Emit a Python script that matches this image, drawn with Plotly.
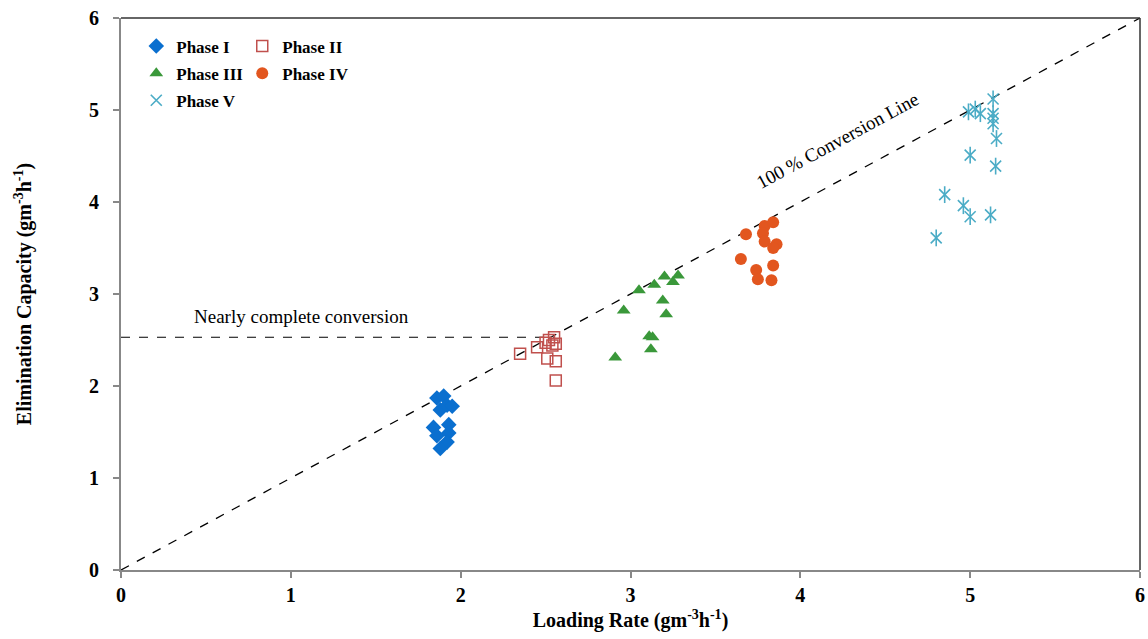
import plotly.graph_objects as go

# ---- data ----
phase1_x = [1.86, 1.90, 1.88, 1.92, 1.95, 1.84, 1.86, 1.93, 1.93, 1.92, 1.88]
phase1_y = [1.87, 1.89, 1.74, 1.79, 1.78, 1.55, 1.46, 1.58, 1.49, 1.39, 1.32]

phase2_x = [2.35, 2.45, 2.50, 2.52, 2.55, 2.56, 2.51, 2.56, 2.56, 2.54]
phase2_y = [2.35, 2.42, 2.47, 2.50, 2.53, 2.46, 2.30, 2.27, 2.06, 2.44]

phase3_x = [3.05, 3.14, 3.20, 3.25, 3.28, 2.96, 3.19, 3.21, 3.11, 3.13, 3.12, 2.91]
phase3_y = [3.04, 3.10, 3.19, 3.13, 3.20, 2.82, 2.93, 2.78, 2.54, 2.53, 2.40, 2.31]

phase4_x = [3.68, 3.79, 3.84, 3.78, 3.79, 3.86, 3.84, 3.65, 3.74, 3.84, 3.75, 3.83]
phase4_y = [3.65, 3.74, 3.78, 3.66, 3.57, 3.54, 3.50, 3.38, 3.26, 3.31, 3.16, 3.15]

phase5_x = [5.135, 4.99, 5.03, 5.06, 5.135, 5.135, 5.135, 5.155, 5.00, 5.15, 4.85, 4.96, 5.00, 5.12, 4.80]
phase5_y = [5.12, 4.98, 5.01, 4.96, 4.96, 4.91, 4.85, 4.69, 4.51, 4.39, 4.08, 3.96, 3.84, 3.86, 3.61]

conversion_x = [0, 6]
conversion_y = [0, 6]
nearly_x = [0, 2.55]
nearly_y = [2.53, 2.53]

tick_vals = [0, 1, 2, 3, 4, 5, 6]

# ---- figure ----
FONT = "Liberation Serif"
fig = go.Figure()

fig.add_trace(go.Scatter(x=conversion_x, y=conversion_y, mode="lines",
                         line=dict(color="black", width=1.3, dash="dash"),
                         showlegend=False, hoverinfo="skip"))
fig.add_trace(go.Scatter(x=nearly_x, y=nearly_y, mode="lines",
                         line=dict(color="black", width=1.1, dash="dash"),
                         showlegend=False, hoverinfo="skip"))

fig.add_trace(go.Scatter(x=phase1_x, y=phase1_y, mode="markers", name="Phase I",
                         marker=dict(symbol="diamond", size=12, color="#0a6fcf"),
                         legend="legend", legendgroup="p1"))
fig.add_trace(go.Scatter(x=phase2_x, y=phase2_y, mode="markers", name="Phase II",
                         marker=dict(symbol="square-open", size=11, color="#c0504d",
                                     line=dict(width=1.5)),
                         legend="legend2", legendgroup="p2"))
fig.add_trace(go.Scatter(x=phase3_x, y=phase3_y, mode="markers", name="Phase III",
                         marker=dict(symbol="triangle-up", size=12, color="#3a983a"),
                         legend="legend", legendgroup="p3"))
fig.add_trace(go.Scatter(x=phase4_x, y=phase4_y, mode="markers", name="Phase IV",
                         marker=dict(symbol="circle", size=12, color="#e2561f"),
                         legend="legend2", legendgroup="p4"))
fig.add_trace(go.Scatter(x=phase5_x, y=phase5_y, mode="markers", name="Phase V",
                         marker=dict(symbol="line-ns-open", size=12, color="#4bacc6",
                                     line=dict(width=1.6, color="#4bacc6")),
                         showlegend=False, hoverinfo="skip"))
fig.add_trace(go.Scatter(x=phase5_x, y=phase5_y, mode="markers", name="Phase V",
                         marker=dict(symbol="x-thin-open", size=11, color="#4bacc6",
                                     line=dict(width=1.6, color="#4bacc6")),
                         legend="legend", legendgroup="p5"))

fig.add_annotation(x=1.06, y=2.76, text="Nearly complete conversion", showarrow=False,
                   font=dict(family=FONT, size=19, color="black"))
fig.add_annotation(x=4.22, y=4.67, text="100 % Conversion Line", showarrow=False,
                   textangle=-28.4, font=dict(family=FONT, size=19, color="black"))

# top/right dark frame
fig.add_shape(type="line", xref="paper", yref="paper", x0=0, x1=1, y0=1, y1=1,
              line=dict(color="#333333", width=1.5))
fig.add_shape(type="line", xref="paper", yref="paper", x0=1, x1=1, y0=0, y1=1,
              line=dict(color="#333333", width=1.5))

axis_common = dict(
    range=[0, 6], tickvals=tick_vals, showgrid=False, zeroline=False,
    showline=True, linecolor="#888888", linewidth=2,
    ticks="outside", ticklen=6, tickcolor="#888888", tickwidth=1.5,
    tickfont=dict(family=FONT, size=20, color="black", weight="bold"),
    automargin=False, ticklabeloverflow="allow",
)

legend_common = dict(
    xanchor="left", yanchor="top", bgcolor="rgba(0,0,0,0)",
    font=dict(family=FONT, size=17, color="black", weight="bold"),
    itemwidth=30, tracegroupgap=2,
)

fig.update_layout(
    width=1148, height=639,
    margin=dict(l=121, r=8, t=18, b=69),
    plot_bgcolor="white", paper_bgcolor="white",
    xaxis=dict(**axis_common,
               title=dict(text="Loading Rate (gm<sup>-3</sup>h<sup>-1</sup>)", standoff=8,
                          font=dict(family=FONT, size=20, color="black", weight="bold"))),
    yaxis=dict(**axis_common, ticklabelstandoff=10,
               title=dict(text="Elimination Capacity (gm<sup>-3</sup>h<sup>-1</sup>)",
                          standoff=52,
                          font=dict(family=FONT, size=20, color="black", weight="bold"))),
    legend=dict(x=0.015, y=0.981, **legend_common),
    legend2=dict(x=0.119, y=0.981, **legend_common),
)

# remove the browser's default 8px body margin so the figure fills the window
fig.write_html("out.html",
               config={"displayModeBar": False},
               post_script="document.body.style.margin='0';document.body.style.overflow='hidden';")
